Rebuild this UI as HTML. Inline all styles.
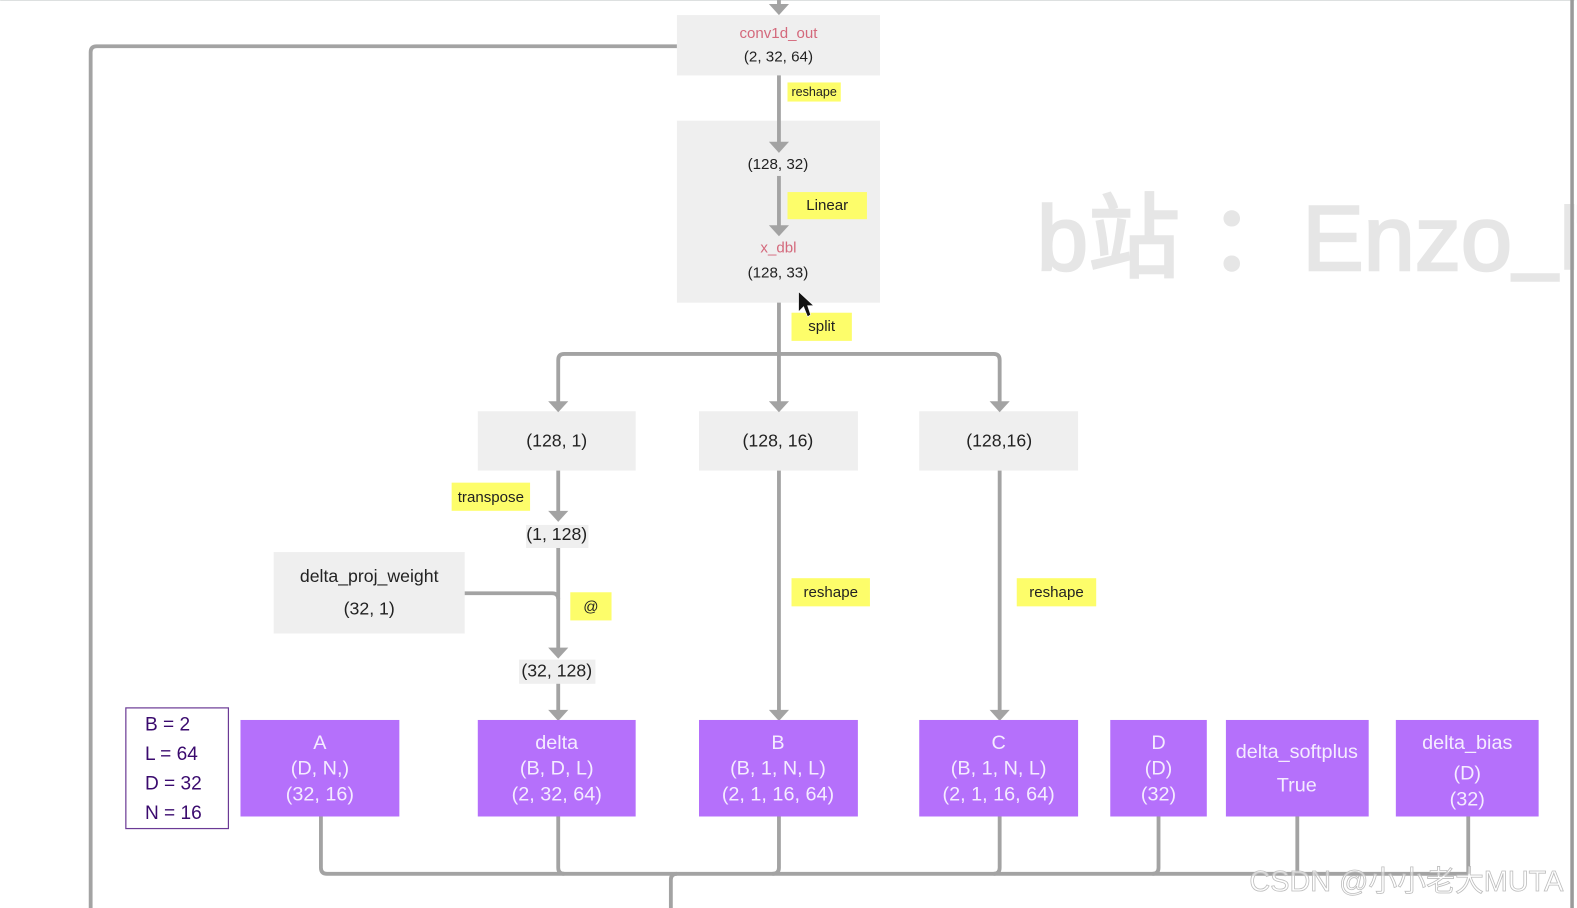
<!DOCTYPE html>
<html><head><meta charset="utf-8"><style>
html,body{margin:0;padding:0;background:#fff;width:1577px;height:908px;overflow:hidden}
svg{display:block}
text{font-family:"Liberation Sans","Noto Sans CJK SC",sans-serif;text-anchor:middle;fill:#222}
.g{fill:#efefef}.y{fill:#fdfd6a}.p{fill:#b570fb}
.w text,text.w{fill:#f5ecff;font-size:19.700px}
.l{fill:none;stroke:#a3a3a3;stroke-width:3.800}
.a{fill:#a3a3a3}
.k{font-size:15.100px}.m{font-size:17.600px}
.r{fill:#d4697c;font-size:15px}
.v{fill:#3a0a6e;font-size:19px;text-anchor:start}
.wm{font-size:91.500px;fill:#e6e6e6;stroke:#e6e6e6;stroke-width:2.500;text-anchor:start}
</style></head><body>
<svg width="1577" height="908" viewBox="0 0 1568 903" xmlns="http://www.w3.org/2000/svg">
<rect width="1568" height="903" fill="#fff"/>
<rect width="1568" height="1" fill="#dde0e0"/>
<!-- watermark -->
<text class="wm" x="1031" y="268.500">b站</text>
<text class="wm" x="1202" y="268.500" style="font-family:'Noto Sans CJK SC',sans-serif">：</text>
<text class="wm" x="1295" y="268.500">Enzo</text>
<text class="wm" x="1505" y="263" style="font-size:78px;stroke-width:3.500px">_</text>
<text class="wm" x="1549.300" y="267">N</text>
<rect x="1565.500" y="0" width="2.500" height="903" fill="#fff"/>
<rect x="1561.500" y="0" width="3.500" height="903" fill="#9a9a9a"/>
<!-- boxes grey -->
<rect class="g" x="673" y="15" width="202" height="60"/>
<rect class="g" x="673" y="120" width="202" height="181"/>
<rect class="g" x="475" y="409" width="157" height="59"/>
<rect class="g" x="695" y="409" width="158" height="59"/>
<rect class="g" x="914" y="409" width="158" height="59"/>
<rect class="g" x="523" y="522" width="62" height="23"/>
<rect class="g" x="272" y="549" width="190" height="81"/>
<rect class="g" x="516" y="656" width="76" height="24"/>
<!-- lines -->
<g class="l">
<path d="M774.500 0V6"/>
<path d="M673 46H96Q90 46 90 52V903"/>
<path d="M774.500 75V144"/>
<path d="M774.500 175V226"/>
<path d="M774.500 301V400"/>
<path d="M555 400V358Q555 352 561 352H988Q994 352 994 358V400"/>
<path d="M555 468V510"/>
<path d="M555 545V647"/>
<path d="M462 590H549Q555 590 555 596"/>
<path d="M555 680V708"/>
<path d="M774.500 468V708"/>
<path d="M994 468V708"/>
<path d="M319 812V863Q319 869 325 869H1460"/>
<path d="M555 812V863Q555 869 561 869"/>
<path d="M774.500 812V863Q774.500 869 768 869"/>
<path d="M994 812V863Q994 869 988 869"/>
<path d="M1152 812V863Q1152 869 1146 869"/>
<path d="M1290 812V869"/>
<path d="M1460 812V869"/>
<path d="M667 903V875Q667 869 673 869"/>
</g>
<!-- arrowheads -->
<g class="a">
<path d="M764.500 4H784.500L774.500 15Z"/>
<path d="M764.500 141H784.500L774.500 152Z"/>
<path d="M764.500 224H784.500L774.500 235Z"/>
<path d="M545 399H565L555 410Z"/>
<path d="M764.500 399H784.500L774.500 410Z"/>
<path d="M984 399H1004L994 410Z"/>
<path d="M545 508H565L555 519Z"/>
<path d="M545 644H565L555 655Z"/>
<path d="M545 706H565L555 717Z"/>
<path d="M764.500 706H784.500L774.500 717Z"/>
<path d="M984 706H1004L994 717Z"/>
</g>
<!-- yellow labels -->
<rect class="y" x="783" y="82" width="53" height="19"/>
<rect class="y" x="783" y="191" width="79" height="27"/>
<rect class="y" x="787" y="311" width="60" height="28"/>
<rect class="y" x="449" y="480" width="78" height="28"/>
<rect class="y" x="567" y="589" width="41" height="28"/>
<rect class="y" x="787" y="575" width="78" height="28"/>
<rect class="y" x="1011" y="575" width="79" height="28"/>
<text x="809.500" y="95.500" style="font-size:12.500px">reshape</text>
<text x="822.500" y="209" style="font-size:15px">Linear</text>
<text x="817" y="329" style="font-size:15px">split</text>
<text x="488" y="499" style="font-size:15px">transpose</text>
<text x="587.500" y="608" style="font-size:15px">@</text>
<text x="826" y="593.500" style="font-size:15px">reshape</text>
<text x="1050.500" y="593.500" style="font-size:15px">reshape</text>
<!-- grey labels -->
<text class="r" x="774" y="38">conv1d_out</text>
<text class="k" x="774" y="61">(2, 32, 64)</text>
<text class="k" x="773.500" y="168">(128, 32)</text>
<text class="r" x="774" y="251">x_dbl</text>
<text class="k" x="773.500" y="276">(128, 33)</text>
<text class="m" x="553.500" y="444">(128, 1)</text>
<text class="m" x="773.500" y="444">(128, 16)</text>
<text class="m" x="993.500" y="444">(128,16)</text>
<text class="m" x="553.500" y="537">(1, 128)</text>
<text class="m" x="367" y="579">delta_proj_weight</text>
<text class="m" x="367" y="611">(32, 1)</text>
<text class="m" x="553.500" y="673">(32, 128)</text>
<!-- var box -->
<rect x="125" y="704" width="102" height="120" fill="#fff" stroke="#6b3a95" stroke-width="1.200"/>
<text class="v" x="144" y="726.500">B = 2</text>
<text class="v" x="144" y="756">L = 64</text>
<text class="v" x="144" y="785">D = 32</text>
<text class="v" x="144" y="814.500">N = 16</text>
<!-- purple -->
<rect class="p" x="239" y="716" width="158" height="96"/>
<rect class="p" x="475" y="716" width="157" height="96"/>
<rect class="p" x="695" y="716" width="158" height="96"/>
<rect class="p" x="914" y="716" width="158" height="96"/>
<rect class="p" x="1104" y="716" width="96" height="96"/>
<rect class="p" x="1219" y="716" width="142" height="96"/>
<rect class="p" x="1388" y="716" width="142" height="96"/>
<g class="w">
<text x="318" y="745">A</text><text x="318" y="770">(D, N,)</text><text x="318" y="796">(32, 16)</text>
<text x="553.500" y="745">delta</text><text x="553.500" y="770">(B, D, L)</text><text x="553.500" y="796">(2, 32, 64)</text>
<text x="773.500" y="745">B</text><text x="773.500" y="770">(B, 1, N, L)</text><text x="773.500" y="796">(2, 1, 16, 64)</text>
<text x="993" y="745">C</text><text x="993" y="770">(B, 1, N, L)</text><text x="993" y="796">(2, 1, 16, 64)</text>
<text x="1152" y="745">D</text><text x="1152" y="770">(D)</text><text x="1152" y="796">(32)</text>
<text x="1289.500" y="754">delta_softplus</text><text x="1289.500" y="787">True</text>
<text x="1459" y="745">delta_bias</text><text x="1459" y="775">(D)</text><text x="1459" y="801">(32)</text>
</g>
<!-- cursor -->
<path d="M794 290V310L799 305L803 315L806 313L803 304H809Z" fill="#111" stroke="#fff" stroke-width=".6"/>
<!-- csdn watermark -->
<text x="1398.500" y="886" style="font-size:28.700px;fill:#fff;fill-opacity:.55;stroke:#bdbdbd;stroke-width:.8">CSDN @小小老大MUTA</text>
</svg>
</body></html>
